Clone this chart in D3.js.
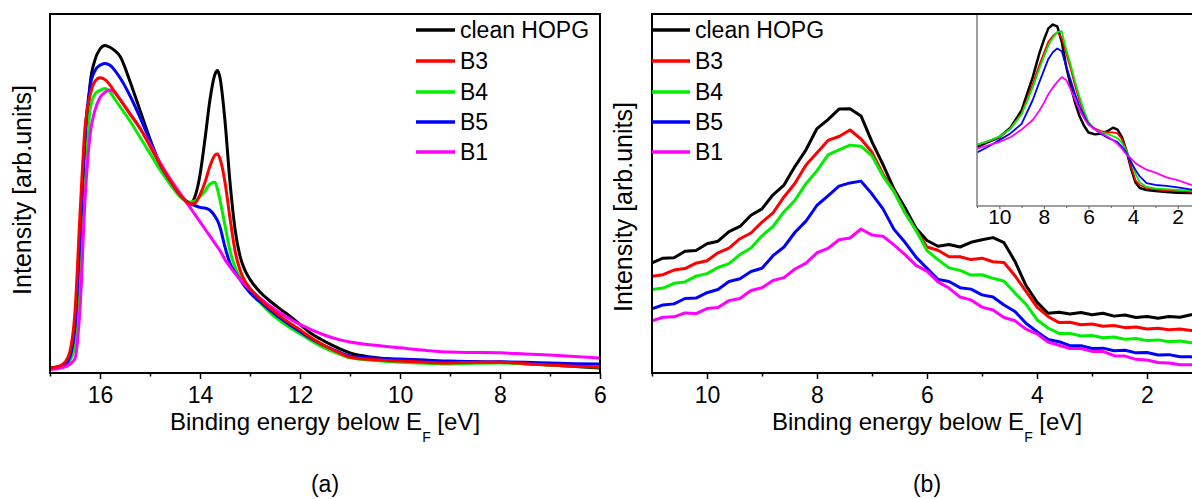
<!DOCTYPE html>
<html><head><meta charset="utf-8">
<script src="https://cdn.jsdelivr.net/npm/d3@7"></script>
<style>
body{margin:0;background:#fff}
svg{display:block}
text{font-family:"Liberation Sans",Arial,Helvetica,sans-serif;fill:#000}
</style></head>
<body><svg id="c" width="1192" height="499"></svg>
<script>
// ---------- data ----------
const seriesNames = ["clean HOPG","B3","B4","B5","B1"];
const seriesColors = ["#000000","#ff0000","#00ee00","#0000ff","#ff00ff"];

// panel (a)
const energyA = [17.0,16.8,16.7,16.6,16.5,16.4,16.3,16.2,16.1,16.0,
  15.9,15.8,15.7,15.6,15.4,15.2,15.0,14.8,14.6,14.4,
  14.2,14.1,14.0,13.9,13.8,13.7,13.65,13.6,13.5,13.4,
  13.3,13.2,13.1,13.0,12.8,12.6,12.4,12.2,12.0,11.8,
  11.6,11.4,11.2,11.0,10.5,10.0,9.5,9.0,8.5,8.0,
  7.5,7.0,6.5,6.0];
const hopgA = [1.4,1.8,2.5,4.5,9,20,55,80,87,90,
  91,90.5,89.5,88,81,73,65,58,53,49.5,
  47,49,55,65,76,83,84,82,70,53,
  40,32.5,28.5,26,22.5,20,17.8,15.8,13.5,11.2,
  9.5,8,6.7,5.6,4.3,3.4,3.0,2.8,2.9,3.0,
  2.7,2.2,1.8,1.4];
const b3A = [1.4,2,3,6,17,44,68,77,81,82,
  81.5,80,78,76,72,68,63,58,53.5,49.5,
  47,47.2,49.5,53,57.5,60.5,60.8,59.5,53,43,
  34,28.6,25.5,23.5,20.5,18,15.8,13.8,12,10,
  8.3,6.8,5.5,4.4,3.7,3.3,3.0,2.8,3.0,3.0,
  2.6,2.2,1.9,1.7];
const b4A = [1.3,1.6,2.2,3.5,8,24,51,73,77.5,78.5,
  79,78,76,74,70,65.5,61,56.5,52.5,49,
  47.5,47.8,49,50.5,52.5,53,51,48,41,34,
  29.5,26.5,24.5,22.5,19.5,16.8,14.5,12.6,10.9,9.2,
  7.6,6.3,5.2,4.2,3.5,3.0,2.7,2.5,2.7,2.8,
  2.5,2.2,1.9,1.7];
const b5A = [1.3,1.6,2.3,4.5,13,38,66,79.5,84,85.5,
  86,85.5,84,82,77,71,64.5,58,53.5,49.5,
  47,46.5,46,45.8,45.2,43.5,42.3,40.5,35,30.5,
  28,26,24,22.3,19.8,17.5,15.3,13.3,11.5,9.7,
  8.2,6.9,5.7,4.7,4.2,3.9,3.6,3.3,3.2,3.1,
  3.0,2.8,2.6,2.5];
const b1A = [1.0,1.3,1.7,2.5,4,18,48,66,73,76.5,
  78,78.6,77.8,76,72,68,63.5,58.5,54,50,
  46,44,42,40,38,36,35,34,31.5,29.5,
  27.7,26.0,24.5,23.2,20.8,18.6,16.7,15.0,13.5,12.2,
  11.0,10.0,9.2,8.6,7.7,7.0,6.3,5.8,5.7,5.6,
  5.3,5.0,4.6,4.2];

// panel (b)
const energyB = [11.0,10.8,10.6,10.4,10.2,10.0,9.8,9.6,9.4,9.2,
  9.0,8.8,8.6,8.4,8.2,8.0,7.8,7.6,7.4,7.2,
  7.0,6.8,6.6,6.4,6.2,6.0,5.8,5.6,5.4,5.2,
  5.0,4.8,4.6,4.4,4.2,4.0,3.8,3.6,3.4,3.2,
  3.0,2.8,2.6,2.4,2.2,2.0,1.8,1.6,1.4,1.2,1.0];
const hopgB = [30.6,31.9,32.0,33.8,34.0,35.9,36.6,39.3,40.7,43.8,
  45.6,49.5,52.2,57.4,62.0,67.9,70.4,73.3,73.4,71.4,
  64.2,57.9,51.1,45.9,40.2,36.8,35.2,35.7,35.0,36.3,
  37.0,37.6,36.2,31.0,24.3,19.7,16.6,16.9,16.4,16.8,
  16.2,16.6,15.8,16.1,15.4,15.7,15.2,15.7,15.5,16.2,16.0];
const b3B = [26.9,27.3,28.6,29.0,30.5,31.2,33.4,34.7,37.3,38.9,
  41.9,44.5,48.9,52.7,57.8,61.2,64.6,65.7,67.5,65.0,
  61.3,55.2,50.6,44.5,39.8,35.0,34.1,32.3,32.3,31.5,
  31.9,30.9,30.7,27.0,22.7,18.3,15.7,14.0,14.1,13.4,
  13.6,13.0,13.2,12.6,12.8,12.2,12.4,12.0,12.2,11.8,11.9];
const b4B = [23.2,23.6,24.9,25.3,26.9,27.6,29.3,30.4,32.9,34.7,
  38.1,40.7,44.8,48.0,52.6,56.2,60.6,62.0,63.3,63.0,
  60.3,54.7,50.3,44.5,39.6,34.0,31.5,29.2,28.5,27.2,
  27.3,26.3,25.5,22.2,19.1,14.8,12.5,11.0,11.0,10.3,
  10.4,9.8,10.0,9.4,9.6,9.0,9.2,8.7,8.9,8.4,8.6];
const b5B = [17.8,18.9,19.2,20.7,20.8,22.3,23.2,25.4,26.2,28.2,
  29.1,32.6,35.0,39.1,42.2,46.6,49.2,51.9,52.8,53.3,
  49.7,45.6,39.9,36.3,32.2,29.1,26.0,25.4,23.7,23.3,
  21.7,21.1,18.9,17.1,13.8,11.5,9.3,8.7,7.6,7.6,
  6.8,6.9,6.2,6.3,5.6,5.7,5.0,5.1,4.5,4.5,4.1];
const b1B = [14.5,15.5,15.6,16.7,16.5,17.9,18.2,20.1,20.7,22.9,
  23.7,25.7,26.5,28.9,30.5,33.4,34.6,37.0,37.5,40.0,
  38.3,38.0,35.6,32.9,29.9,28.3,25.3,23.6,21.1,20.3,
  18.3,17.5,15.4,14.5,12.2,10.9,8.6,7.7,6.8,6.8,
  6.0,6.0,4.8,4.7,3.8,3.6,2.9,2.8,2.3,2.3,1.9];

// inset of panel (b)
const energyInset = [11,10.5,10,9.5,9,8.5,8.2,8.0,7.8,7.6,
  7.4,7.2,7.0,6.8,6.6,6.4,6.2,6.0,5.7,5.4,
  5.1,4.9,4.7,4.5,4.3,4.1,3.9,3.7,3.4,3.0,
  2.5,2.0,1.5,1.0];
const hopgInset = [31,33.5,36,41,50,67.5,80,87,93,95,
  94,86,73,63,54,47,42,38.5,37.5,38,
  39.5,41,40,36,29,20,12.5,9.4,8.4,7.8,
  7.3,7,6.8,6.6];
const b3Inset = [31.9,34,36,40.5,48.5,64,74,80,86,89,
  91,88,80,72,63,55,48.5,43,40.5,39,
  38.5,38.5,38,35,29,21,13.6,11,9.4,8.7,
  8.2,7.8,7.5,7.3];
const b4Inset = [32,34,36.3,40.5,48,62,72,78,84,88,
  91,91.5,82,74,65,57,50,44,40,38.5,
  37.5,36.5,35.5,33,29,24,17,12.5,10,9.2,
  8.8,8.4,8,7.8];
const b5Inset = [28,31,34.5,38,43,55.5,65,71,77,80.5,
  82.5,81,73,66,58.5,52,47,43,40,37.5,
  35.5,34.5,33.5,31,28,23,19,15.5,12,11,
  10.5,9.8,8.8,8.2];
const b1Inset = [30,31.8,33.5,36,40,45,50,54,58.5,62,
  65,67.5,66,61,55.5,50,46,42.5,40,38,
  36,34.5,32.5,30,27,25,22.5,21,19,17.5,
  15,13.5,11.5,10];

const ticksA = [16,14,12,10,8,6], minorA = [17,15,13,11,9,7];
const ticksB = [10,8,6,4,2], minorB = [11,9,7,5,3,1];
const ticksInset = [10,8,6,4,2], minorInset = [11,9,7,5,3,1];
const xTitle = ["Binding energy below E","F"," [eV]"];
const yTitle = "Intensity [arb.units]";
const panelLabels = ["(a)","(b)"];

// ---------- drawing ----------
const svg = d3.select("#c");
const defs = svg.append("defs");
let clipId = 0;

function addClip(x0,y0,x1,y1){
  const id = "clip"+(clipId++);
  defs.append("clipPath").attr("id",id).append("rect")
    .attr("x",x0).attr("y",y0).attr("width",x1-x0).attr("height",y1-y0);
  return "url(#"+id+")";
}

function drawAxis(x, y0, major, minor, opt){
  const g = svg.append("g").attr("transform",`translate(0,${y0})`);
  g.call(d3.axisBottom(x).tickValues(major).tickSize(opt.major).tickPadding(opt.pad).tickSizeOuter(0).tickFormat(d3.format("d")));
  g.select(".domain").remove();
  g.selectAll(".tick line").attr("stroke",opt.color).attr("stroke-width",opt.tw);
  g.selectAll(".tick text").attr("font-size",opt.fs).attr("font-family",'"Liberation Sans",Arial,sans-serif').attr("fill","#000");
  const m = svg.append("g").attr("transform",`translate(0,${y0})`);
  m.call(d3.axisBottom(x).tickValues(minor).tickSize(opt.minor).tickSizeOuter(0).tickFormat(""));
  m.select(".domain").remove();
  m.selectAll(".tick line").attr("stroke",opt.color).attr("stroke-width",opt.tw);
}

function drawLines(x, y, energy, seriesList, clip, widths, curve, order){
  const gl = svg.append("g").attr("clip-path",clip);
  order.forEach(i=>{
    const line = d3.line().x((d,j)=>x(energy[j])).y(d=>y(d)).curve(curve);
    gl.append("path").datum(seriesList[i]).attr("d",line).attr("fill","none")
      .attr("stroke",seriesColors[i]).attr("stroke-width",widths[i])
      .attr("stroke-linejoin","round");
  });
}

function drawLegend(x0,x1,tx,rows){
  seriesNames.forEach((n,i)=>{
    svg.append("line").attr("x1",x0).attr("x2",x1).attr("y1",rows[i]).attr("y2",rows[i])
      .attr("stroke",seriesColors[i]).attr("stroke-width",3.5);
    svg.append("text").attr("x",tx).attr("y",rows[i]+8).attr("font-size",23).text(n);
  });
}

function drawTitles(cx, baseY, yx, ycy, label){
  const t = svg.append("text").attr("x",cx).attr("y",baseY).attr("text-anchor","middle").attr("font-size",24);
  t.append("tspan").text(xTitle[0]);
  t.append("tspan").attr("font-size",14).attr("dy",12).text(xTitle[1]);
  t.append("tspan").attr("dy",-12).text(xTitle[2]);
  svg.append("text").attr("transform",`translate(${yx},${ycy}) rotate(-90)`)
    .attr("text-anchor","middle").attr("font-size",25).text(yTitle);
  svg.append("text").attr("x",cx).attr("y",492).attr("text-anchor","middle").attr("font-size",23).text(label);
}

const legendRows = [30,61,92,122,152];
const topY = 14, botY = 373;

// Panel (a)
(function(){
  const x = d3.scaleLinear().domain([17,6]).range([50,600]);
  const y = d3.scaleLinear().domain([0,100]).range([botY,13]);
  const clip = addClip(50,topY,600,botY);
  drawLines(x,y,energyA,[hopgA,b3A,b4A,b5A,b1A],clip,[3,3,3,3,3],d3.curveMonotoneX,[0,2,3,4,1]);
  svg.append("rect").attr("x",50).attr("y",topY).attr("width",550).attr("height",botY-topY)
    .attr("fill","none").attr("stroke","#000").attr("stroke-width",2);
  drawAxis(x, botY, ticksA, minorA, {major:6,minor:3.5,pad:8,fs:23,color:"#000",tw:1.5});
  drawLegend(416,455,460,legendRows);
  drawTitles(325, 430, 31, 190, panelLabels[0]);
})();

// Panel (b)
(function(){
  const x = d3.scaleLinear().domain([11,1]).range([652,1202]);
  const y = d3.scaleLinear().domain([0,100]).range([botY,13]);
  const clip = addClip(652,topY,1202,botY);
  drawLines(x,y,energyB,[hopgB,b3B,b4B,b5B,b1B],clip,[3,3,3,3,3],d3.curveLinear,[0,1,2,3,4]);
  svg.append("rect").attr("x",652).attr("y",topY).attr("width",550).attr("height",botY-topY)
    .attr("fill","none").attr("stroke","#000").attr("stroke-width",2);
  drawAxis(x, botY, ticksB, minorB, {major:6,minor:3.5,pad:8,fs:23,color:"#000",tw:1.5});
  drawLegend(652,690,695,legendRows);
  drawTitles(927, 430, 632, 207, panelLabels[1]);

  // inset
  const ix = d3.scaleLinear().domain([11,1]).range([977,1200]);
  const iy = d3.scaleLinear().domain([0,100]).range([206,15]);
  svg.append("rect").attr("x",977).attr("y",15).attr("width",230).attr("height",191).attr("fill","#fff");
  const iclip = addClip(977,15,1200,206);
  drawLines(ix,iy,energyInset,[hopgInset,b3Inset,b4Inset,b5Inset,b1Inset],iclip,[2.5,1.8,1.8,1.8,1.8],d3.curveLinear,[0,1,2,3,4]);
  svg.append("path").attr("d","M977,15V206H1200").attr("fill","none").attr("stroke","#808080").attr("stroke-width",1.5);
  drawAxis(ix, 206, ticksInset, minorInset, {major:3,minor:2,pad:0,fs:21,color:"#606060",tw:1});
  svg.append("line").attr("x1",652).attr("x2",1192).attr("y1",topY).attr("y2",topY).attr("stroke","#000").attr("stroke-width",2);
})();
</script>
</body></html>
